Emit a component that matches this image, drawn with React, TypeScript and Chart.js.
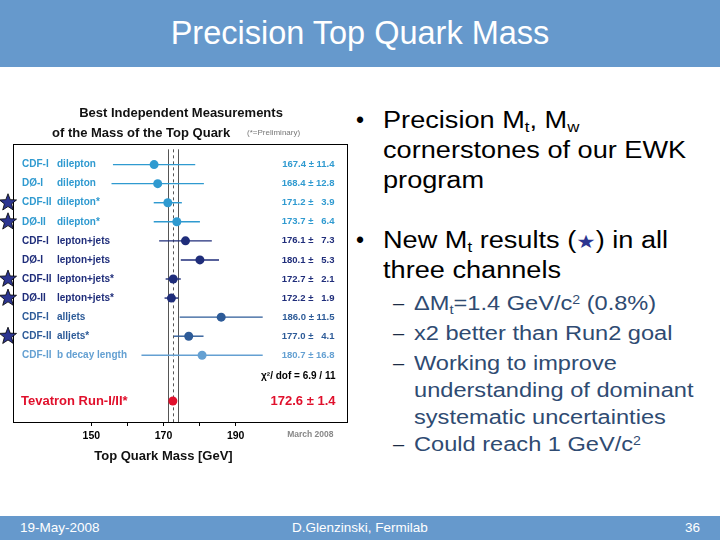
import React, { useEffect, useRef } from "react";
import { Chart, registerables } from "chart.js";

Chart.register(...registerables);

// ---- data ----
const experiments = ["CDF-I", "DØ-I", "CDF-II", "DØ-II", "CDF-I", "DØ-I", "CDF-II", "DØ-II", "CDF-I", "CDF-II", "CDF-II"];
const channels = ["dilepton", "dilepton", "dilepton*", "dilepton*", "lepton+jets", "lepton+jets", "lepton+jets*", "lepton+jets*", "alljets", "alljets*", "b decay length"];
const channelGroups = ["dilepton", "dilepton", "dilepton", "dilepton", "ljets", "ljets", "ljets", "ljets", "alljets", "alljets", "bdecay"];
const masses = [167.4, 168.4, 171.2, 173.7, 176.1, 180.1, 172.7, 172.2, 186.0, 177.0, 180.7];
const errors = [11.4, 12.8, 3.9, 6.4, 7.3, 5.3, 2.1, 1.9, 11.5, 4.1, 16.8];
const isNewResult = [false, false, true, true, false, false, true, true, false, true, false];
const combinedLabel = "Tevatron Run-I/II*";
const combinedMass = 172.6;
const combinedError = 1.4;
const chi2Label = "χ²/ dof = 6.9 / 11";
const xTickValues = [150, 160, 170, 180, 190];
const xTickLabels = ["150", "", "170", "", "190"];
const xAxisTitle = "Top Quark Mass [GeV]";
const chartTitle1 = "Best Independent Measurements";
const chartTitle2 = "of the Mass of the Top Quark";
const prelimNote = "(*=Preliminary)";
const dateNote = "March 2008";

// ---- styles ----
const groupColors: Record<string, string> = {
  dilepton: "#2f9ad0",
  ljets: "#1f2d7a",
  alljets: "#2d5b98",
  bdecay: "#64a0d2",
};
const combinedColor = "#e0102c";
const FONT = '"Liberation Sans", Arial, Helvetica, sans-serif';
const CHI2_ROW = 11.1;
const COMBINED_ROW = 12.4;

function starPath(ctx: CanvasRenderingContext2D, cx: number, cy: number, ro: number, ri: number) {
  ctx.beginPath();
  for (let k = 0; k < 10; k++) {
    const r = k % 2 === 0 ? ro : ri;
    const a = -Math.PI / 2 + (k * Math.PI) / 5;
    const px = cx + r * Math.cos(a);
    const py = cy + r * Math.sin(a);
    if (k === 0) ctx.moveTo(px, py);
    else ctx.lineTo(px, py);
  }
  ctx.closePath();
}

const decorPlugin = {
  id: "decor",
  beforeDatasetsDraw(chart: any) {
    const { ctx, chartArea: a } = chart;
    const xs = chart.scales.x;
    const ys = chart.scales.y;
    ctx.save();
    // frame
    ctx.strokeStyle = "#000";
    ctx.lineWidth = 1;
    ctx.strokeRect(Math.round(a.left) + 0.5, Math.round(a.top) + 0.5, Math.round(a.right - a.left) - 1, Math.round(a.bottom - a.top));
    // combined band lines
    const yTop = ys.getPixelForValue(-0.8);
    ctx.strokeStyle = "#555";
    ctx.lineWidth = 1;
    [combinedMass - combinedError, combinedMass + combinedError].forEach((v) => {
      const px = Math.round(xs.getPixelForValue(v)) + 0.5;
      ctx.beginPath();
      ctx.moveTo(px, yTop);
      ctx.lineTo(px, a.bottom);
      ctx.stroke();
    });
    ctx.setLineDash([3, 3]);
    const pc = Math.round(xs.getPixelForValue(combinedMass)) + 0.5;
    ctx.beginPath();
    ctx.moveTo(pc, yTop);
    ctx.lineTo(pc, a.bottom);
    ctx.stroke();
    ctx.setLineDash([]);
    // error bars
    masses.forEach((m, i) => {
      const py = ys.getPixelForValue(i);
      ctx.strokeStyle = groupColors[channelGroups[i]];
      ctx.lineWidth = 1.4;
      ctx.beginPath();
      ctx.moveTo(xs.getPixelForValue(m - errors[i]), py);
      ctx.lineTo(xs.getPixelForValue(m + errors[i]), py);
      ctx.stroke();
    });
    ctx.restore();
  },
  afterDatasetsDraw(chart: any) {
    const { ctx, chartArea: a } = chart;
    const xs = chart.scales.x;
    const ys = chart.scales.y;
    ctx.save();
    ctx.textBaseline = "middle";
    const valueRight = a.right - 13;
    masses.forEach((m, i) => {
      const py = ys.getPixelForValue(i);
      const col = groupColors[channelGroups[i]];
      ctx.fillStyle = col;
      ctx.font = `bold 10px ${FONT}`;
      ctx.textAlign = "left";
      ctx.fillText(experiments[i], a.left + 9, py);
      ctx.fillText(channels[i], a.left + 44, py);
      ctx.font = `bold 9.5px ${FONT}`;
      ctx.textAlign = "right";
      const errTxt = errors[i] < 10 ? "\u2007" + errors[i].toFixed(1) : errors[i].toFixed(1);
      ctx.fillText(`${m.toFixed(1)} ± ${errTxt}`, valueRight, py);
      if (isNewResult[i]) {
        starPath(ctx, 8, py, 9, 3.8);
        ctx.fillStyle = "#2c3590";
        ctx.fill();
        ctx.strokeStyle = "#000";
        ctx.lineWidth = 0.8;
        ctx.stroke();
      }
    });
    // chi2
    ctx.fillStyle = "#000";
    ctx.font = `bold 10px ${FONT}`;
    ctx.textAlign = "right";
    ctx.fillText(chi2Label, valueRight + 1, ys.getPixelForValue(CHI2_ROW));
    // combined
    const cy = ys.getPixelForValue(COMBINED_ROW);
    ctx.fillStyle = combinedColor;
    ctx.font = `bold 13px ${FONT}`;
    ctx.textAlign = "left";
    ctx.fillText(combinedLabel, a.left + 8, cy);
    ctx.textAlign = "right";
    ctx.fillText(`${combinedMass.toFixed(1)} ± ${combinedError.toFixed(1)}`, valueRight + 1, cy);
    // titles
    ctx.fillStyle = "#111";
    ctx.font = `bold 13px ${FONT}`;
    ctx.textAlign = "center";
    ctx.fillText(chartTitle1, 181, a.top - 31);
    ctx.textAlign = "left";
    ctx.fillText(chartTitle2, 52, a.top - 11);
    ctx.fillStyle = "#777";
    ctx.font = `8px ${FONT}`;
    ctx.fillText(prelimNote, 247, a.top - 11);
    // axis title and note
    ctx.fillStyle = "#111";
    ctx.font = `bold 13px ${FONT}`;
    ctx.textAlign = "center";
    ctx.fillText(xAxisTitle, xs.getPixelForValue(170), a.bottom + 34);
    ctx.fillStyle = "#888";
    ctx.font = `bold 8.5px ${FONT}`;
    ctx.textAlign = "right";
    ctx.fillText(dateNote, valueRight - 1, a.bottom + 13);
    ctx.restore();
  },
};

function ForestChart() {
  const ref = useRef<HTMLCanvasElement | null>(null);
  useEffect(() => {
    if (!ref.current) return;
    const pts = masses.map((m, i) => ({ x: m, y: i }));
    pts.push({ x: combinedMass, y: COMBINED_ROW });
    const colors = channelGroups.map((g) => groupColors[g]);
    colors.push(combinedColor);
    const chart = new Chart(ref.current, {
      type: "scatter",
      data: {
        datasets: [
          {
            data: pts,
            pointRadius: 4.5,
            pointHoverRadius: 4.5,
            pointBackgroundColor: colors,
            pointBorderWidth: 0,
            borderWidth: 0,
          },
        ],
      },
      options: {
        animation: false,
        responsive: false,
        devicePixelRatio: 1,
        layout: { padding: { left: 13, right: 3, top: 54, bottom: 0 } },
        plugins: { legend: { display: false }, tooltip: { enabled: false }, title: { display: false } },
        scales: {
          x: {
            type: "linear",
            min: 128.3,
            max: 221,
            afterBuildTicks: (scale: any) => {
              scale.ticks = xTickValues.map((v) => ({ value: v }));
            },
            afterFit: (scale: any) => {
              scale.height = 58;
            },
            ticks: {
              color: "#000",
              font: { family: FONT, size: 10.5, weight: "bold" },
              padding: 4,
              maxRotation: 0,
              autoSkip: false,
              callback: (v: any) => xTickLabels[xTickValues.indexOf(Number(v))] ?? "",
            },
            grid: { drawOnChartArea: false, drawTicks: true, tickLength: 4, color: "#000" },
            border: { display: true, color: "#000", width: 1 },
          },
          y: {
            type: "linear",
            reverse: true,
            min: -1.08,
            max: 13.5,
            display: false,
          },
        },
      } as any,
      plugins: [decorPlugin],
    });
    return () => chart.destroy();
  }, []);
  return <canvas ref={ref} width={352} height={390} style={{ position: "absolute", left: 0, top: 90, width: 352, height: 390 }} />;
}

const SX = "scaleX(1.18)";

function Line(props: { x: number; cy: number; size: number; color?: string; children: React.ReactNode; scale?: boolean }) {
  const lh = Math.round(props.size * 1.2);
  return (
    <div
      style={{
        position: "absolute",
        left: props.x,
        top: props.cy - lh / 2,
        height: lh,
        lineHeight: lh + "px",
        fontSize: props.size,
        color: props.color ?? "#000",
        whiteSpace: "nowrap",
        transform: props.scale === false ? undefined : SX,
        transformOrigin: "left center",
      }}
    >
      {props.children}
    </div>
  );
}

const sub = (t: string) => (
  <span style={{ fontSize: "0.62em", position: "relative", top: "0.3em" }}>{t}</span>
);
const sup = (t: string) => (
  <span style={{ fontSize: "0.6em", position: "relative", top: "-0.5em" }}>{t}</span>
);

export default function App() {
  const subColor = "#2f4b72";
  return (
    <div
      style={{
        position: "absolute",
        left: 0,
        top: 0,
        width: 720,
        height: 540,
        background: "#fff",
        overflow: "hidden",
        fontFamily: FONT,
      }}
    >
      <div
        style={{
          position: "absolute",
          left: 0,
          top: 0,
          width: 720,
          height: 67,
          background: "#6699cc",
          color: "#fff",
          fontSize: 32.5,
          display: "flex",
          alignItems: "center",
          justifyContent: "center",
        }}
      >
        Precision Top Quark Mass
      </div>
      <ForestChart />

      <Line x={356} cy={120} size={23} scale={false}>•</Line>
      <Line x={383} cy={120} size={23}>
        Precision M{sub("t")}, M{sub("w")}
      </Line>
      <Line x={383} cy={150} size={23}>cornerstones of our EWK</Line>
      <Line x={383} cy={180} size={23}>program</Line>
      <Line x={356} cy={240} size={23} scale={false}>•</Line>
      <Line x={383} cy={240} size={23}>
        New M{sub("t")} results (<span style={{ color: "#2c3590", fontFamily: '"DejaVu Sans", sans-serif', fontSize: "0.8em" }}>★</span>) in all
      </Line>
      <Line x={383} cy={270} size={23}>three channels</Line>

      {[303, 333, 363, 444].map((y) => (
        <Line key={y} x={393} cy={y} size={20} color="#1c2b44" scale={false}>–</Line>
      ))}
      <Line x={414} cy={303} size={20} color={subColor}>
        ΔM{sub("t")}=1.4 GeV/c{sup("2")} (0.8%)
      </Line>
      <Line x={414} cy={333} size={20} color={subColor}>x2 better than Run2 goal</Line>
      <Line x={414} cy={363} size={20} color={subColor}>Working to improve</Line>
      <Line x={414} cy={390} size={20} color={subColor}>understanding of dominant</Line>
      <Line x={414} cy={417} size={20} color={subColor}>systematic uncertainties</Line>
      <Line x={414} cy={444} size={20} color={subColor}>
        Could reach 1 GeV/c{sup("2")}
      </Line>

      <div
        style={{
          position: "absolute",
          left: 0,
          top: 516,
          width: 720,
          height: 24,
          background: "#6699cc",
          color: "#fff",
          fontSize: 13.5,
        }}
      >
        <div style={{ position: "absolute", left: 20, top: 0, lineHeight: "24px" }}>19-May-2008</div>
        <div style={{ position: "absolute", left: 0, width: 720, textAlign: "center", top: 0, lineHeight: "24px" }}>
          D.Glenzinski, Fermilab
        </div>
        <div style={{ position: "absolute", right: 20, top: 0, lineHeight: "24px" }}>36</div>
      </div>
    </div>
  );
}
